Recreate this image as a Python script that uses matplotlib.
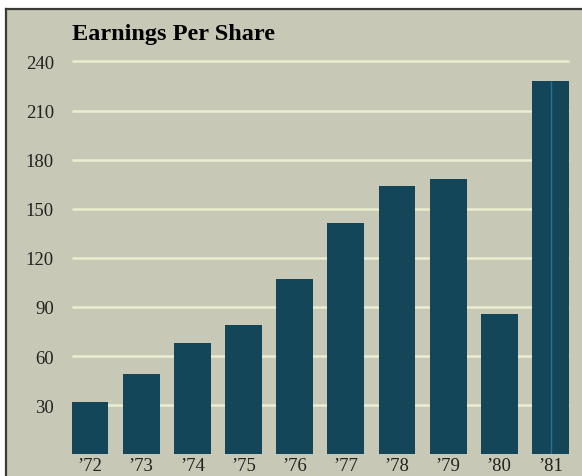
import matplotlib.pyplot as plt
from matplotlib.patches import Rectangle
from matplotlib.lines import Line2D

# data
years = ["’72", "’73", "’74", "’75", "’76", "’77", "’78", "’79", "’80", "’81"]
eps = [32, 49, 68, 79, 107, 141, 164, 168, 86, 228]
yticks = [30, 60, 90, 120, 150, 180, 210, 240]

W, H = 582, 477
bg = "#c7c8b5"
bar_color = "#134658"
grid_color = "#ededd0"

plt.rcParams['font.family'] = ['Liberation Serif', 'DejaVu Serif']

fig = plt.figure(figsize=(W / 100, H / 100), dpi=100)
fig.patch.set_facecolor("white")

# beige panel with a dark frame on top/left
fig.patches.append(Rectangle((6 / W, 0), 1, (H - 10) / H, transform=fig.transFigure,
                             facecolor=bg, edgecolor="none", zorder=-5))
fig.lines.append(Line2D([6 / W, 6 / W], [0, (H - 10) / H], transform=fig.transFigure,
                        color="#3a3a36", lw=1.6, zorder=-4))
fig.lines.append(Line2D([6 / W, 1], [(H - 10) / H, (H - 10) / H], transform=fig.transFigure,
                        color="#3a3a36", lw=1.6, zorder=-4))

# axes: left 65px, right 575px, zero at y=455px, top at y=40px
ax = fig.add_axes([65 / W, (H - 455.3) / H, 510 / W, 415.3 / H])
ax.set_zorder(5)
ax.set_facecolor("none")
x = list(range(len(years)))
ax.set_xlim(-0.49, 9.48)
ax.set_ylim(0, 253.7)

ax.hlines(yticks, -0.35, 9.36, color=grid_color, lw=1.8, zorder=1)
ax.bar(x, eps, width=0.72, color=bar_color, zorder=2)
# faint fold line on the last bar in the scan
ax.vlines(x[-1] + 0.02, 0, eps[-1], color="#2e6f9a", lw=1.0, zorder=3)

for s in ax.spines.values():
    s.set_visible(False)
ax.set_yticks(yticks)
ax.set_yticklabels([str(v) for v in yticks], fontsize=13.5, color="#222222")
ax.set_xticks(x)
ax.set_xticklabels(years, fontsize=13.5, color="#222222")
ax.tick_params(axis='y', length=0, pad=8)
ax.tick_params(axis='x', length=0, pad=2)

fig.text(72 / W, (H - 40) / H, "Earnings Per Share", fontsize=17.5, fontweight='bold',
         ha='left', va='baseline', zorder=6)

fig.savefig("out.png", dpi=100)
